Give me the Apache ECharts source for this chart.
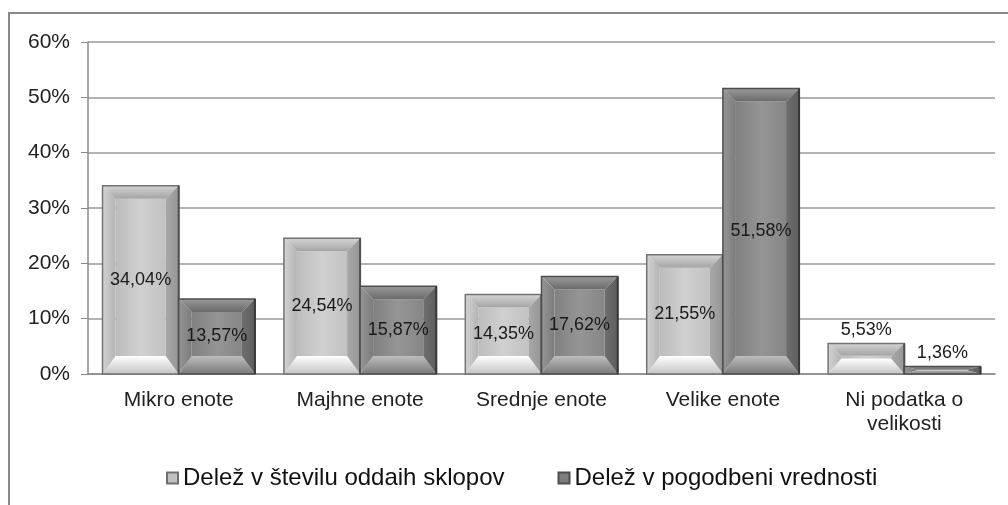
<!DOCTYPE html>
<html>
<head>
<meta charset="utf-8">
<script src="https://cdn.jsdelivr.net/npm/echarts@6/dist/echarts.min.js"></script>
<style>
  html, body { margin: 0; padding: 0; background: #fff; }
  #chart { width: 1008px; height: 505px; }
</style>
</head>
<body>
<div id="chart"></div>
<script>
const categories = ['Mikro enote', 'Majhne enote', 'Srednje enote', 'Velike enote', 'Ni podatka o\nvelikosti']
const seriesNames = ['Delež v številu oddaih sklopov', 'Delež v pogodbeni vrednosti']
const shareCount = [34.04, 24.54, 14.35, 21.55, 5.53]
const shareValue = [13.57, 15.87, 17.62, 51.58, 1.36]
const yTicks = [0, 10, 20, 30, 40, 50, 60]

const FONT = '"Liberation Sans", Arial, sans-serif'

// shading for the bevelled (Excel style) bars
const shades = [
  {
    face: ['#bcbcbc', '#d0d0d0', '#c2c2c2'],
    top: ['#d4d4d4', '#a4a4a4'],
    left: ['#d2d2d2', '#b4b4b4'],
    right: ['#a8a8a8', '#969696'],
    bottom: ['#ffffff', '#c4c4c4'],
    border: '#737373',
    edge: '#505050'
  },
  {
    face: ['#808080', '#959595', '#868686'],
    top: ['#999999', '#6a6a6a'],
    left: ['#959595', '#7c7c7c'],
    right: ['#6e6e6e', '#5e5e5e'],
    bottom: ['#bdbdbd', '#7a7a7a'],
    border: '#4e4e4e',
    edge: '#383838'
  }
]

function vgrad(c) {
  return { type: 'linear', x: 0, y: 0, x2: 0, y2: 1, colorStops: [{ offset: 0, color: c[0] }, { offset: 1, color: c[1] }] }
}
function hgrad(c) {
  const stops = c.map((col, i) => ({ offset: i / (c.length - 1), color: col }))
  return { type: 'linear', x: 0, y: 0, x2: 1, y2: 0, colorStops: stops }
}
function fmt(v) {
  return v.toFixed(2).replace('.', ',') + '%'
}

function bevelBar(idx) {
  const s = shades[idx]
  return function (params, api) {
    const cat = api.value(0)
    const val = api.value(1)
    const base = api.coord([cat, 0])
    const top = api.coord([cat, val])
    const band = api.size([1, 0])[0]
    const w = band * 0.42
    const x0 = base[0] - w + idx * w
    const x1 = x0 + w
    const y0 = top[1]
    const y1 = base[1]
    const h = y1 - y0
    // bevel widths: top / sides and a deeper bottom one
    const bt = Math.min(13, h * 0.4, w / 2)
    const bb = Math.min(18, h * 0.5, w / 2)
    const bs = Math.min(13, w / 2)
    const children = [
      { type: 'rect', shape: { x: x0 + bs, y: y0 + bt, width: w - 2 * bs, height: Math.max(h - bt - bb, 0) }, style: { fill: hgrad(s.face) } },
      { type: 'polygon', shape: { points: [[x0, y0], [x1, y0], [x1 - bs, y0 + bt], [x0 + bs, y0 + bt]] }, style: { fill: vgrad(s.top) } },
      { type: 'polygon', shape: { points: [[x0, y1], [x1, y1], [x1 - bs, y1 - bb], [x0 + bs, y1 - bb]] }, style: { fill: vgrad(s.bottom) } },
      { type: 'polygon', shape: { points: [[x0, y0], [x0 + bs, y0 + bt], [x0 + bs, y1 - bb], [x0, y1]] }, style: { fill: hgrad(s.left) } },
      { type: 'polygon', shape: { points: [[x1, y0], [x1 - bs, y0 + bt], [x1 - bs, y1 - bb], [x1, y1]] }, style: { fill: hgrad(s.right) } },
      { type: 'rect', shape: { x: x0, y: y0, width: w, height: h }, style: { fill: null, stroke: s.border, lineWidth: 1.5 } },
      { type: 'line', shape: { x1: x1, y1: y0, x2: x1, y2: y1 }, style: { stroke: s.edge, lineWidth: 2 } }
    ]
    const inside = h > 36
    children.push({
      type: 'text',
      style: {
        text: fmt(val),
        x: (x0 + x1) / 2,
        y: inside ? (y0 + y1) / 2 : y0 - 4,
        align: 'center',
        verticalAlign: inside ? 'middle' : 'bottom',
        font: '18px ' + FONT,
        fill: '#1a1a1a'
      }
    })
    return { type: 'group', children: children }
  }
}

const chart = echarts.init(document.getElementById('chart'))

const option = {
  backgroundColor: '#fff',
  animation: false,
  graphic: [
    {
      type: 'rect',
      shape: { x: 9, y: 13, width: 1010, height: 510 },
      style: { fill: null, stroke: '#888888', lineWidth: 2 },
      z: -1
    }
  ],
  grid: {
    left: 88,
    right: 13,
    top: 42,
    bottom: 131,
    outerBoundsMode: 'none'
  },
  legend: {
    left: 161,
    top: 461,
    itemGap: 53,
    itemWidth: 11,
    itemHeight: 11,
    icon: 'rect',
    textStyle: { fontFamily: FONT, fontSize: 24, color: '#111' },
    data: seriesNames
  },
  xAxis: {
    type: 'category',
    data: categories,
    axisLine: { lineStyle: { color: '#8a8a8a', width: 1.5 } },
    axisTick: { length: 5, lineStyle: { color: '#8a8a8a' } },
    axisLabel: {
      margin: 14,
      fontFamily: FONT,
      fontSize: 21,
      lineHeight: 24,
      color: '#222'
    }
  },
  yAxis: {
    type: 'value',
    min: yTicks[0],
    max: yTicks[yTicks.length - 1],
    interval: yTicks[1] - yTicks[0],
    axisLine: { show: true, lineStyle: { color: '#8a8a8a', width: 1.5 } },
    axisTick: { show: true, length: 7, lineStyle: { color: '#8a8a8a' } },
    splitLine: { lineStyle: { color: '#9a9a9a', width: 1.5 } },
    axisLabel: {
      margin: 18,
      fontFamily: FONT,
      fontSize: 21,
      color: '#222',
      formatter: v => v + '%'
    }
  },
  series: [
    {
      name: seriesNames[0],
      type: 'custom',
      renderItem: bevelBar(0),
      itemStyle: { color: '#c0c0c0', borderColor: '#707070', borderWidth: 1 },
      encode: { x: 0, y: 1 },
      data: shareCount.map((v, i) => [i, v])
    },
    {
      name: seriesNames[1],
      type: 'custom',
      renderItem: bevelBar(1),
      itemStyle: { color: '#7e7e7e', borderColor: '#4e4e4e', borderWidth: 1 },
      encode: { x: 0, y: 1 },
      data: shareValue.map((v, i) => [i, v])
    }
  ]
}

chart.setOption(option)
</script>
</body>
</html>
